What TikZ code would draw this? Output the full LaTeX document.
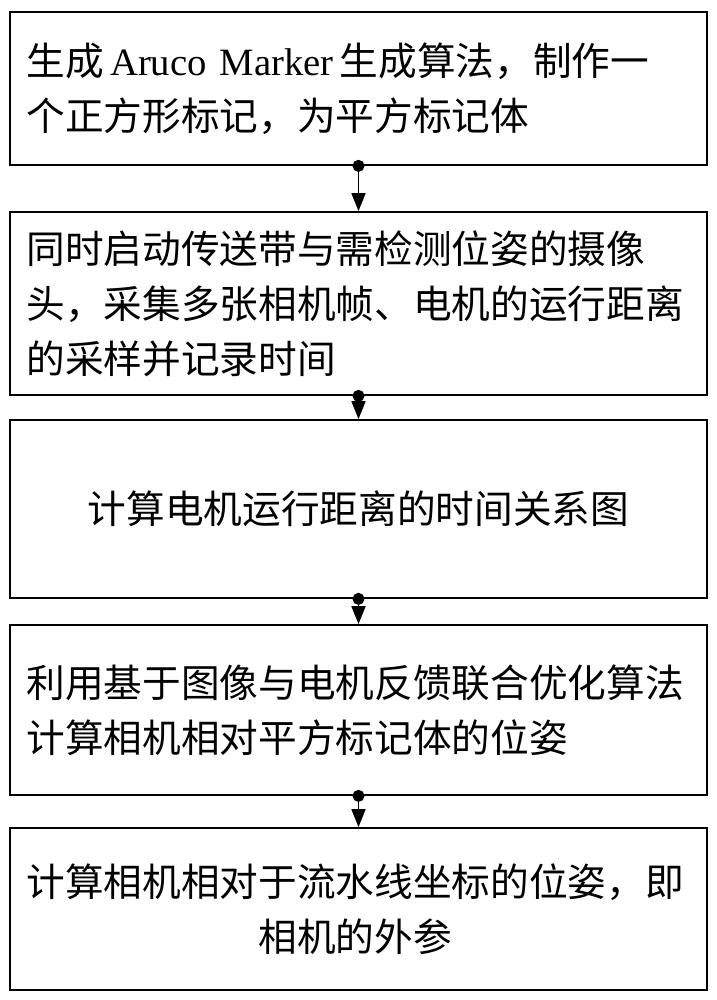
\documentclass[tikz,border=0pt]{standalone}
\usepackage{fontspec}
\setmainfont{Liberation Serif}
\newfontfamily\cjk{Noto Sans CJK SC}
\usetikzlibrary{positioning, arrows.meta}
\tikzset{
	stepbox/.style={draw, line width=1.2pt, minimum width=17.425cm, font=\fontsize{27.5}{39}\selectfont\cjk, text width=16.6cm, align=left},
	link/.style={line width=1.2pt, {Circle[length=3mm]}-{Triangle[length=4.5mm, width=3.5mm]}, shorten <=-1.5mm},
}
\begin{document}
\begin{tikzpicture}[x=0.025cm, y=-0.025cm]
		\useasboundingbox (0,0) rectangle (717,1000);
		% Flow steps
		\node[stepbox, minimum height=3.825cm] (S1) at (358.5,88.5) {生成\,{\rmfamily Aruco Marker}\,生成算法，制作一\\个正方形标记，为平方标记体};
		\node[stepbox, minimum height=4.575cm] (S2) at (358.5,303.5) {同时启动传送带与需检测位姿的摄像\\头，采集多张相机帧、电机的运行距离\\的采样并记录时间};
		\node[stepbox, minimum height=4.45cm, align=center] (S3) at (358.5,509) {计算电机运行距离的时间关系图};
		\node[stepbox, minimum height=4.25cm] (S4) at (358.5,710) {利用基于图像与电机反馈联合优化算法\\计算相机相对平方标记体的位姿};
		\node[stepbox, minimum height=4.05cm] (S5) at (358.5,909) {计算相机相对于流水线坐标的位姿，即\\\hspace*{6em}相机的外参};

		\draw[link] (S1) -- (S2);
		\draw[link] (S2) -- (S3);
		\draw[link] (S3) -- (S4);
		\draw[link] (S4) -- (S5);
	\end{tikzpicture}
\end{document}
